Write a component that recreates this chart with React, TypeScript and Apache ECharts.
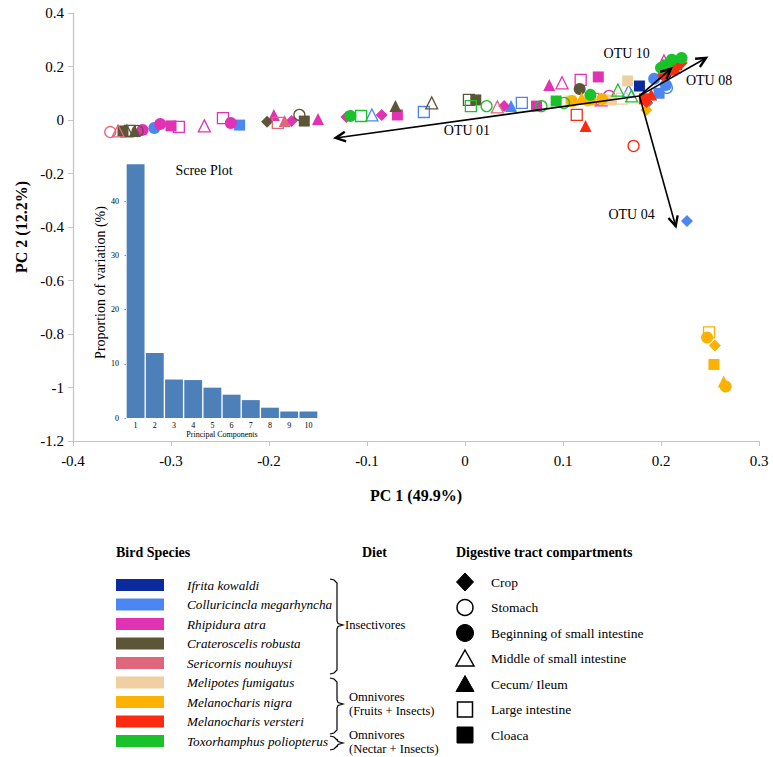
import React, { useEffect, useRef } from 'react';
import * as echarts from 'echarts';

const FONT = '"Liberation Serif", "Times New Roman", serif';

const SPECIES = ['Ifrita kowaldi', 'Colluricincla megarhyncha', 'Rhipidura atra', 'Crateroscelis robusta', 'Sericornis nouhuysi', 'Melipotes fumigatus', 'Melanocharis nigra', 'Melanocharis versteri', 'Toxorhamphus poliopterus'];
const SPECIES_COLORS = ['#0a2a9e', '#4a87f2', '#e232b4', '#5d5538', '#e0667c', '#f0d0a0', '#fdb100', '#fb2a10', '#19c12a'];
const COMPARTMENTS = ['Crop', 'Stomach', 'Beginning of small intestine', 'Middle of small intestine', 'Cecum/ Ileum', 'Large intestine', 'Cloaca'];

// [PC1, PC2, compartment index]
const IFRITA = [[0.178, 0.127, 6], [0.205, 0.175, 2]];
const COLLURICINCLA = [[-0.317, -0.03, 2], [-0.23, -0.019, 6], [-0.095, 0.019, 3], [-0.042, 0.03, 5], [0.047, 0.052, 4], [0.058, 0.064, 5], [0.167, 0.109, 3], [0.193, 0.154, 2], [0.186, 0.064, 0], [0.205, 0.131, 2], [0.206, 0.12, 1], [0.198, 0.1, 6], [0.2265, -0.378, 0]];
const RHIPIDURA = [[-0.329, -0.037, 2], [-0.311, -0.015, 2], [-0.3, -0.022, 6], [-0.292, -0.026, 5], [-0.266, -0.022, 3], [-0.247, 0.007, 5], [-0.239, -0.011, 2], [-0.195, 0.019, 4], [-0.177, -0.004, 0], [-0.15, 0.004, 4], [-0.121, 0.011, 0], [-0.085, 0.019, 0], [-0.069, 0.019, 6], [0.04, 0.052, 0], [0.073, 0.052, 6], [0.086, 0.131, 4], [0.099, 0.139, 3], [0.118, 0.15, 5], [0.136, 0.161, 6], [0.147, 0.09, 1], [0.139, 0.075, 3], [0.203, 0.221, 3]];
const CRATEROSCELIS = [[-0.349, -0.041, 6], [-0.342, -0.041, 5], [-0.337, -0.041, 4], [-0.334, -0.041, 1], [-0.345, -0.041, 3], [-0.202, -0.007, 0], [-0.169, 0.019, 1], [-0.164, -0.004, 6], [-0.071, 0.052, 4], [-0.034, 0.064, 3], [0.004, 0.075, 5], [0.011, 0.075, 6], [0.117, 0.116, 2]];
const SERICORNIS = [[-0.362, -0.045, 1], [-0.354, -0.041, 3], [-0.191, -0.011, 5], [-0.184, -0.004, 4], [0.033, 0.049, 3], [0.131, 0.079, 5]];
const MELIPOTES = [[0.108, 0.071, 6], [0.149, 0.075, 6], [0.166, 0.146, 6], [0.16, 0.08, 5], [0.125, 0.072, 2]];
const NIGRA = [[0.109, 0.071, 2], [0.119, 0.082, 4], [0.128, 0.075, 6], [0.14, 0.078, 2], [0.185, 0.037, 0], [0.249, -0.794, 5], [0.247, -0.813, 2], [0.255, -0.843, 0], [0.254, -0.914, 6], [0.264, -0.978, 4], [0.266, -0.996, 2]];
const VERSTERI = [[0.114, 0.019, 5], [0.123, -0.022, 4], [0.172, -0.097, 1], [0.183, 0.079, 6], [0.185, 0.067, 0], [0.216, 0.206, 6], [0.221, 0.213, 0], [0.211, 0.187, 6], [0.203, 0.169, 2], [0.214, 0.195, 4], [0.19, 0.095, 4]];
const TOXORHAMPHUS = [[-0.117, 0.015, 2], [-0.106, 0.015, 5], [0.006, 0.052, 5], [0.022, 0.052, 1], [0.078, 0.052, 1], [0.093, 0.071, 6], [0.101, 0.064, 1], [0.128, 0.094, 2], [0.156, 0.112, 3], [0.17, 0.09, 3], [0.211, 0.225, 2], [0.221, 0.232, 2], [0.2, 0.195, 2], [0.206, 0.206, 6]];
const SPECIES_DATA = [IFRITA, COLLURICINCLA, RHIPIDURA, CRATEROSCELIS, SERICORNIS, MELIPOTES, NIGRA, VERSTERI, TOXORHAMPHUS];

// Loading vectors
const ARROW_NAMES = ['OTU 01', 'OTU 10', 'OTU 08', 'OTU 04'];
const ARROW_START = [0.178, 0.09];
const ARROW_END_X = [-0.132, 0.21, 0.246, 0.215];
const ARROW_END_Y = [-0.067, 0.191, 0.232, -0.397];
const ARROW_LABEL_X = [0.002, 0.165, 0.249, 0.17];
const ARROW_LABEL_Y = [-0.041, 0.25, 0.146, -0.352];

// Scree plot
const SCREE_COMPONENTS = ['1', '2', '3', '4', '5', '6', '7', '8', '9', '10'];
const SCREE_VALUES = [46.8, 12.0, 7.1, 7.0, 5.6, 4.3, 3.3, 1.9, 1.2, 1.2];

const SHAPES = [
  { symbol: 'diamond', filled: true, size: 12 },
  { symbol: 'circle', filled: false, size: 11 },
  { symbol: 'circle', filled: true, size: 12 },
  { symbol: 'triangle', filled: false, size: 12 },
  { symbol: 'triangle', filled: true, size: 12 },
  { symbol: 'rect', filled: false, size: 11 },
  { symbol: 'rect', filled: true, size: 11 },
];

function brace(x: number, y1: number, y2: number, ym: number) {
  return [
    [x - 7, y1], [x - 3, y1 + 1], [x, y1 + 4], [x, ym - 4], [x + 1, ym - 1.5], [x + 6, ym],
    [x + 1, ym + 1.5], [x, ym + 4], [x, y2 - 4], [x - 3, y2 - 1], [x - 7, y2],
  ];
}

function legendGraphics() {
  const g: any[] = [];
  const txt = (x: number, y: number, text: string, extra: any = {}) => ({
    type: 'text', x, y, silent: true,
    style: { text, fill: '#000', fontFamily: FONT, fontSize: 13, verticalAlign: 'middle', align: 'left', ...extra },
  });
  g.push(txt(116, 552, 'Bird Species', { fontWeight: 'bold', fontSize: 14 }));
  g.push(txt(362, 552, 'Diet', { fontWeight: 'bold', fontSize: 14 }));
  g.push(txt(456, 552, 'Digestive tract compartments', { fontWeight: 'bold', fontSize: 14 }));
  SPECIES.forEach((s, i) => {
    const y = 585 + i * 19.5;
    g.push({ type: 'rect', silent: true, shape: { x: 116, y: y - 6, width: 48, height: 12 }, style: { fill: SPECIES_COLORS[i] } });
    g.push(txt(187, y, s, { fontStyle: 'italic', fontSize: 13.2 }));
  });
  // braces
  const braceStyle = { stroke: '#000', lineWidth: 1.2, fill: 'none' };
  g.push({ type: 'polyline', silent: true, shape: { points: brace(337, 579, 674, 625) }, style: braceStyle });
  g.push({ type: 'polyline', silent: true, shape: { points: brace(337, 678, 734, 704) }, style: braceStyle });
  g.push({ type: 'polyline', silent: true, shape: { points: brace(337, 736, 750, 743) }, style: braceStyle });
  g.push(txt(345, 625, 'Insectivores', { fontSize: 12.5 }));
  g.push(txt(349, 697, 'Omnivores', { fontSize: 12.5 }));
  g.push(txt(349, 711, '(Fruits + Insects)', { fontSize: 12.5 }));
  g.push(txt(349, 735, 'Omnivores', { fontSize: 12.5 }));
  g.push(txt(349, 749, '(Nectar + Insects)', { fontSize: 12.5 }));
  // compartments
  COMPARTMENTS.forEach((c, i) => {
    const y = 582 + i * 25.5;
    const cx = 465;
    const filled = { fill: '#000', stroke: '#000', lineWidth: 1 };
    const open = { fill: 'none', stroke: '#000', lineWidth: 1.5 };
    if (i === 0) g.push({ type: 'polygon', silent: true, shape: { points: [[cx, y - 9], [cx + 8.5, y], [cx, y + 9], [cx - 8.5, y]] }, style: filled });
    if (i === 1) g.push({ type: 'circle', silent: true, shape: { cx, cy: y, r: 8 }, style: open });
    if (i === 2) g.push({ type: 'circle', silent: true, shape: { cx, cy: y, r: 8.5 }, style: filled });
    if (i === 3) g.push({ type: 'polygon', silent: true, shape: { points: [[cx, y - 8.5], [cx + 9, y + 7.5], [cx - 9, y + 7.5]] }, style: open });
    if (i === 4) g.push({ type: 'polygon', silent: true, shape: { points: [[cx, y - 8.5], [cx + 9, y + 7.5], [cx - 9, y + 7.5]] }, style: filled });
    if (i === 5) g.push({ type: 'rect', silent: true, shape: { x: cx - 7.5, y: y - 7.5, width: 15, height: 15 }, style: open });
    if (i === 6) g.push({ type: 'rect', silent: true, shape: { x: cx - 8, y: y - 8, width: 16, height: 16 }, style: filled });
    g.push(txt(491, y, c, { fontSize: 13.5 }));
  });
  return g;
}

export default function App() {
  const ref = useRef<HTMLDivElement>(null);
  useEffect(() => {
    if (!ref.current) return;
    const chart = echarts.init(ref.current, null, { renderer: 'svg' });
    const axisGrey = '#c4c4c4';
    const scatterSeries = SPECIES_DATA.map((pts, i) => ({
      type: 'scatter',
      name: SPECIES[i],
      xAxisIndex: 0,
      yAxisIndex: 0,
      z: 3,
      data: pts.map((p) => {
        const s = SHAPES[p[2]];
        const c = SPECIES_COLORS[i];
        return {
          value: [p[0], p[1]],
          symbol: s.symbol,
          symbolSize: s.size,
          itemStyle: s.filled ? { color: c, opacity: 1 } : { color: 'rgba(255,255,255,0)', borderColor: c, borderWidth: 1.3, opacity: 1 },
        };
      }),
    }));
    const arrowData = ARROW_NAMES.map((n, i) => [ARROW_START[0], ARROW_START[1], ARROW_END_X[i], ARROW_END_Y[i], ARROW_LABEL_X[i], ARROW_LABEL_Y[i]]);
    const option: any = {
      animation: false,
      backgroundColor: '#fff',
      textStyle: { fontFamily: FONT },
      grid: [
        { left: 73, right: 14, top: 13, bottom: 316, containLabel: false },
        { left: 126, right: 455, top: 147, bottom: 339, containLabel: false },
      ],
      xAxis: [
        {
          gridIndex: 0, type: 'value', min: -0.4, max: 0.3, interval: 0.1,
          name: 'PC 1 (49.9%)', nameLocation: 'middle', nameGap: 46,
          nameTextStyle: { fontFamily: FONT, fontSize: 16, fontWeight: 'bold', color: '#000' },
          axisLine: { show: true, onZero: false, lineStyle: { color: axisGrey, width: 1.2 } },
          axisTick: { show: true, length: 5, lineStyle: { color: axisGrey } },
          axisLabel: { fontFamily: FONT, fontSize: 15, color: '#000', margin: 12 },
          splitLine: { show: false },
        },
        {
          gridIndex: 1, type: 'category', data: SCREE_COMPONENTS,
          name: 'Principal Components', nameLocation: 'middle', nameGap: 12,
          nameTextStyle: { fontFamily: FONT, fontSize: 8, color: '#000' },
          axisLine: { show: false }, axisTick: { show: false },
          axisLabel: { fontFamily: FONT, fontSize: 8, color: '#000', margin: 3 },
        },
      ],
      yAxis: [
        {
          gridIndex: 0, type: 'value', min: -1.2, max: 0.4, interval: 0.2,
          name: 'PC 2 (12.2%)', nameLocation: 'middle', nameGap: 44,
          nameTextStyle: { fontFamily: FONT, fontSize: 16, fontWeight: 'bold', color: '#000' },
          axisLine: { show: true, onZero: false, lineStyle: { color: axisGrey, width: 1.2 } },
          axisTick: { show: true, length: 5, lineStyle: { color: axisGrey } },
          axisLabel: { fontFamily: FONT, fontSize: 15, color: '#000', margin: 9 },
          splitLine: { show: false },
        },
        {
          gridIndex: 1, type: 'value', min: 0, max: 50, interval: 10,
          name: 'Proportion of variation (%)', nameLocation: 'middle', nameGap: 19,
          nameTextStyle: { fontFamily: FONT, fontSize: 14, color: '#000' },
          axisLine: { show: false }, axisTick: { show: true, length: 1.5, lineStyle: { color: '#888' } },
          axisLabel: { fontFamily: FONT, fontSize: 8, color: '#000', margin: 7, showMaxLabel: false },
          splitLine: { show: false },
        },
      ],
      title: {
        text: 'Scree Plot', left: 199, top: 158, textAlign: 'center',
        textStyle: { fontFamily: FONT, fontSize: 14, fontWeight: 'normal', color: '#000' },
      },
      series: [
        {
          type: 'bar', xAxisIndex: 1, yAxisIndex: 1, data: SCREE_VALUES,
          barCategoryGap: '7%', itemStyle: { color: '#4d80b9' }, z: 1,
        },
        ...scatterSeries,
        {
          type: 'custom', xAxisIndex: 0, yAxisIndex: 0, z: 10, data: arrowData,
          renderItem: (params: any, api: any) => {
            const p0 = api.coord([api.value(0), api.value(1)]);
            const p1 = api.coord([api.value(2), api.value(3)]);
            const pl = api.coord([api.value(4), api.value(5)]);
            const ang = Math.atan2(p1[1] - p0[1], p1[0] - p0[0]);
            const L = 11, a = 0.45;
            const h1 = [p1[0] - L * Math.cos(ang - a), p1[1] - L * Math.sin(ang - a)];
            const h2 = [p1[0] - L * Math.cos(ang + a), p1[1] - L * Math.sin(ang + a)];
            return {
              type: 'group',
              children: [
                { type: 'line', shape: { x1: p0[0], y1: p0[1], x2: p1[0], y2: p1[1] }, style: { stroke: '#000', lineWidth: 1.6 } },
                { type: 'polyline', shape: { points: [h1, p1, h2] }, style: { stroke: '#000', lineWidth: 2.4, fill: 'none' } },
                { type: 'text', x: pl[0], y: pl[1], style: { text: ARROW_NAMES[params.dataIndex], fill: '#000', fontFamily: FONT, fontSize: 14, align: 'center', verticalAlign: 'middle' } },
              ],
            };
          },
        },
      ],
      graphic: legendGraphics(),
    };
    chart.setOption(option);
    return () => chart.dispose();
  }, []);
  return <div ref={ref} style={{ position: 'absolute', left: 0, top: 0, width: 773, height: 757 }} />;
}
